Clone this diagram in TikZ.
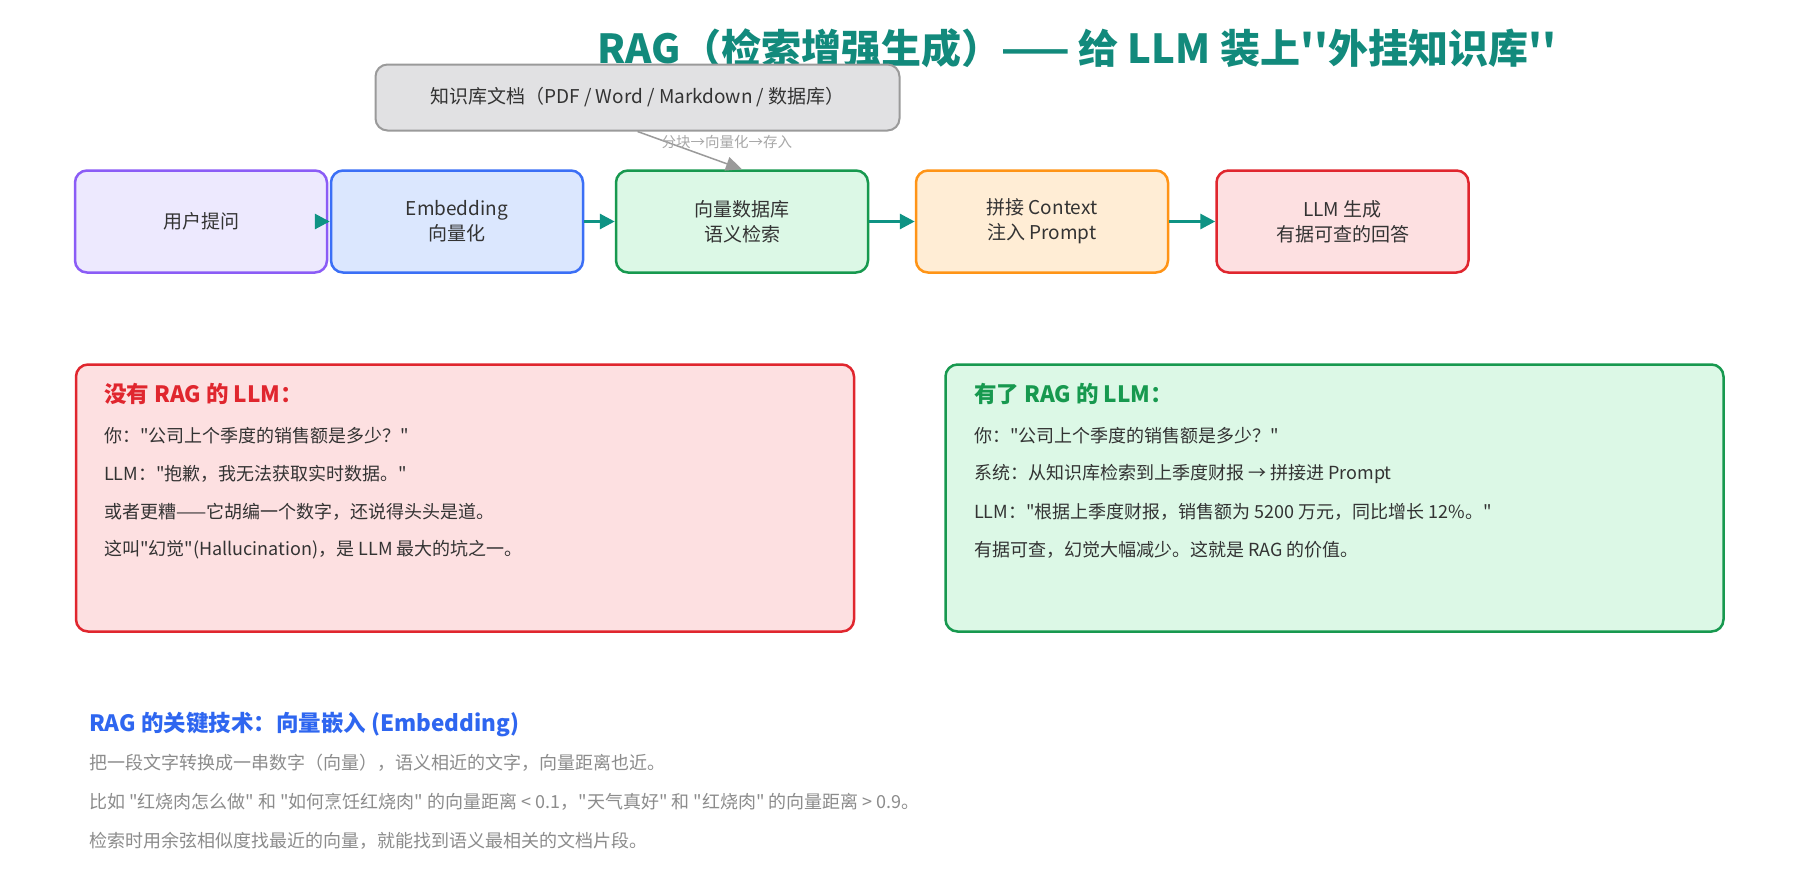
\documentclass[tikz,border=0pt]{standalone}
\usepackage{fontspec}
\setmainfont{Noto Sans CJK SC}[Ligatures=TeXOff]
\usetikzlibrary{arrows.meta}
\definecolor{titlec}{HTML}{128A7C}
\definecolor{arrc}{HTML}{0F9384}
\definecolor{txt}{HTML}{333333}
\definecolor{pu}{HTML}{8B5CF6}\definecolor{puf}{HTML}{EDE9FE}
\definecolor{bl}{HTML}{3B6FF6}\definecolor{blf}{HTML}{DBE7FE}
\definecolor{gr}{HTML}{17994F}\definecolor{grf}{HTML}{DCF8E6}
\definecolor{or}{HTML}{FF9416}\definecolor{orf}{HTML}{FFEDD5}
\definecolor{rd}{HTML}{E0262E}\definecolor{rdf}{HTML}{FDE0E1}
\definecolor{kbf}{HTML}{E1E1E3}\definecolor{kbd}{HTML}{9A9A9A}
\definecolor{blt}{HTML}{2E66F0}
\definecolor{grt}{HTML}{8C8C8C}
\definecolor{lblc}{HTML}{A8A8A8}
\begin{document}
\begin{tikzpicture}[x=1pt,y=-1pt,
  flow/.style={draw, rounded corners=12pt, line width=2.5pt, minimum width=252pt, minimum height=102pt, align=center, font=\fontsize{19}{25}\selectfont, text=txt, inner sep=0pt},
  panel/.style={draw, rounded corners=12pt, line width=2.5pt, minimum width=778pt, minimum height=267pt, inner sep=0pt},
  ptitle/.style={anchor=west, font=\fontsize{22.5}{26}\selectfont\bfseries, inner sep=0pt},
  pline/.style={anchor=west, font=\fontsize{18}{22}\selectfont, text=txt, inner sep=0pt},
  gline/.style={anchor=west, font=\fontsize{18}{22}\selectfont, text=grt, inner sep=0pt},
  flowarrow/.style={draw=arrc, line width=3pt, -{Triangle[length=15pt,width=15pt]}},
]
\useasboundingbox (0,0) rectangle (1796,895);
\fill[white] (0,0) rectangle (1796,895);

\node[font=\fontsize{40}{46}\selectfont\bfseries, text=titlec, inner sep=0pt] (title) at (1077,48) {RAG（检索增强生成）—— 给 LLM 装上''外挂知识库''};

\node[draw=kbd, fill=kbf, rounded corners=12pt, line width=2pt, minimum width=524pt, minimum height=66pt, font=\fontsize{19}{22}\selectfont, text=txt, inner sep=0pt] (kb) at (637.5,97.5) {知识库文档（PDF / Word / Markdown / 数据库）};

\node[flow, draw=pu, fill=puf] (b1) at (201,221.5) {用户提问};
\node[flow, draw=bl, fill=blf] (b2) at (457,221.5) {Embedding\\向量化};
\node[flow, draw=gr, fill=grf] (b3) at (742,221.5) {向量数据库\\语义检索};
\node[flow, draw=or, fill=orf] (b4) at (1042,221.5) {拼接 Context\\注入 Prompt};
\node[flow, draw=rd, fill=rdf] (b5) at (1342.5,221.5) {LLM 生成\\有据可查的回答};

\draw[flowarrow] (b1.east) -- (b2.west);
\draw[flowarrow] (b2.east) -- (b3.west);
\draw[flowarrow] (b3.east) -- (b4.west);
\draw[flowarrow] (b4.east) -- (b5.west);

\draw[draw=kbd, line width=1.5pt, -{Triangle[length=16pt,width=14pt]}] (kb.south) -- (b3.north)
  node[pos=0.5, xshift=37pt, yshift=8pt, font=\fontsize{14.5}{16}\selectfont, text=lblc, inner sep=0pt] (lbl) {分块→向量化→存入};

\node[panel, draw=rd, fill=rdf] (pr) at (465,498) {};
\node[panel, draw=gr, fill=grf] (pg) at (1334.5,498) {};

\node[ptitle, text=rd] (rt) at (104,394) {没有 RAG 的 LLM：};
\node[pline] (r1) at (104,436) {你："公司上个季度的销售额是多少？"};
\node[pline] (r2) at (104,474) {LLM："抱歉，我无法获取实时数据。"};
\node[pline] (r3) at (104,512) {或者更糟——它胡编一个数字，还说得头头是道。};
\node[pline] (r4) at (104,550) {这叫"幻觉"(Hallucination)，是 LLM 最大的坑之一。};

\node[ptitle, text=gr] (gt) at (974,394) {有了 RAG 的 LLM：};
\node[pline] (g1) at (974,436) {你："公司上个季度的销售额是多少？"};
\node[pline] (g2) at (974,474) {系统：从知识库检索到上季度财报 → 拼接进 Prompt};
\node[pline] (g3) at (974,512) {LLM："根据上季度财报，销售额为 5200 万元，同比增长 12\%。"};
\node[pline] (g4) at (974,550) {有据可查，幻觉大幅减少。这就是 RAG 的价值。};

\node[ptitle, text=blt] (bt) at (89,725) {RAG 的关键技术：向量嵌入 (Embedding)};
\node[gline] (k1) at (89,763) {把一段文字转换成一串数字（向量），语义相近的文字，向量距离也近。};
\node[gline] (k2) at (89,802) {比如 "红烧肉怎么做" 和 "如何烹饪红烧肉" 的向量距离 < 0.1，"天气真好" 和 "红烧肉" 的向量距离 > 0.9。};
\node[gline] (k3) at (89,841) {检索时用余弦相似度找最近的向量，就能找到语义最相关的文档片段。};
\end{tikzpicture}
\end{document}
